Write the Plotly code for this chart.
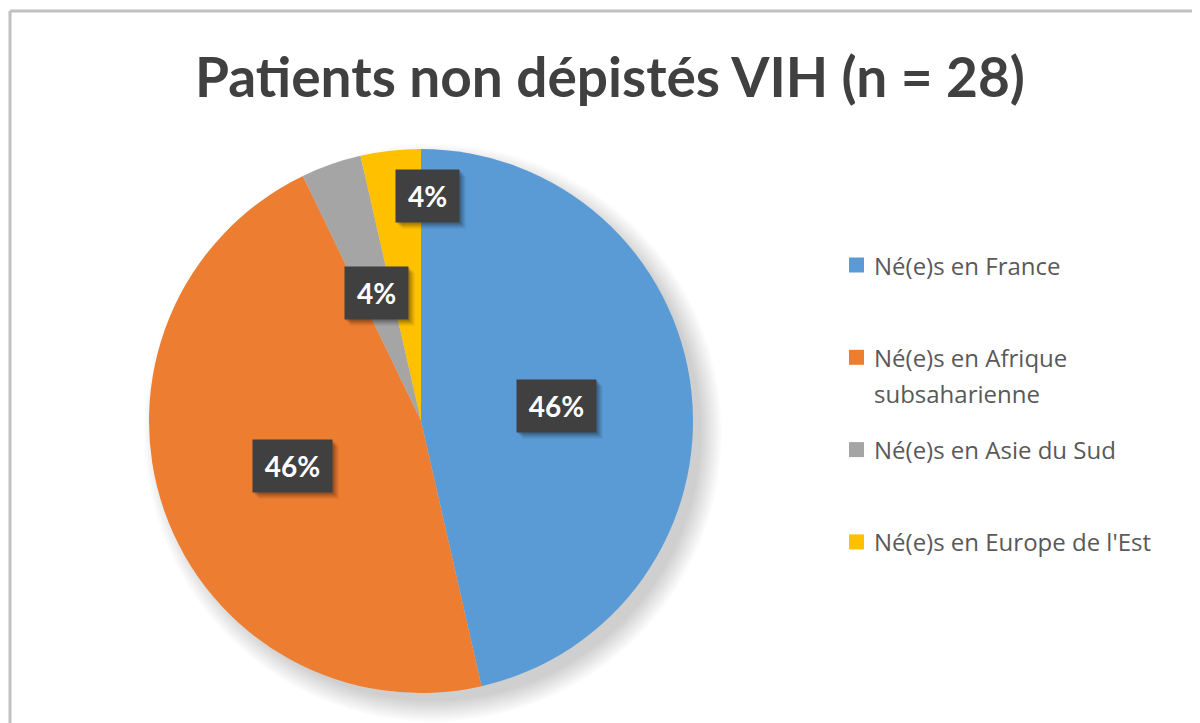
import math
import plotly.graph_objects as go

# ---- data ----
categories = ["Né(e)s en France", "Né(e)s en Afrique subsaharienne",
              "Né(e)s en Asie du Sud", "Né(e)s en Europe de l'Est"]
legend_lines = [["Né(e)s en France"],
                ["Né(e)s en Afrique", "subsaharienne"],
                ["Né(e)s en Asie du Sud"],
                ["Né(e)s en Europe de l'Est"]]
counts = [13, 13, 1, 1]
title_text = "Patients non dépistés VIH (n = 28)"

# ---- style ----
colors = ["#5B9BD5", "#ED7D31", "#A5A5A5", "#FFC000"]
OFF = 8                      # browser default body margin
W, H = 1200 - OFF, 723 - OFF
CX, CY, R = 421, 421, 272    # pie centre / radius in page pixels
label_r = [0.5, 0.5, 0.5, 0.82]
label_shift = [(0, 0), (0, 0), (0, 0), (31, -3)]
box_w = [77, 77, 61, 61]
FONT = "Lato"

def px(x):
    return (x - OFF) / W

def py(y):
    return 1 - (y - OFF) / H

total = sum(counts)

fig = go.Figure()
fig.add_trace(go.Pie(
    labels=categories,
    values=counts,
    marker=dict(colors=colors, line=dict(color="white", width=0)),
    sort=False,
    direction="clockwise",
    rotation=0,
    textinfo="none",
    hoverinfo="label+percent",
    showlegend=False,
    domain=dict(x=[px(CX - R), px(CX + R)], y=[py(CY + R), py(CY - R)]),
))

shapes = []
# soft shadow behind pie (offset toward bottom-right)
for i in range(16):
    rr = R - 4 + i * 1.4
    off = 12
    shapes.append(dict(type="circle", xref="paper", yref="paper", layer="below",
                       x0=px(CX + off - rr), x1=px(CX + off + rr),
                       y0=py(CY + off + rr), y1=py(CY + off - rr),
                       fillcolor="rgba(0,0,0,0.011)", line=dict(width=0)))
# chart border (top & left visible)
shapes.append(dict(type="line", xref="paper", yref="paper", x0=px(10), x1=1.01,
                   y0=py(11), y1=py(11), line=dict(color="#C0C0C0", width=3)))
shapes.append(dict(type="line", xref="paper", yref="paper", x0=px(10), x1=px(10),
                   y0=py(11), y1=-0.01, line=dict(color="#C0C0C0", width=3)))

annotations = []
# data labels (dark boxes with shadow)
cum = 0
for i, v in enumerate(counts):
    mid = cum + v / 2
    cum += v
    ang = math.radians(90 - mid / total * 360)
    lx = CX + label_r[i] * R * math.cos(ang) + label_shift[i][0]
    ly = CY - label_r[i] * R * math.sin(ang) + label_shift[i][1]
    txt = f"{round(v / total * 100)}%"
    for (dx, dy, a) in [(6, 6, 0.09), (4, 4, 0.13), (2, 2, 0.17)]:
        annotations.append(dict(xref="paper", yref="paper", x=px(lx + dx), y=py(ly + dy),
                                xanchor="center", yanchor="middle",
                                text=" ", showarrow=False, width=box_w[i], height=50,
                                bgcolor=f"rgba(0,0,0,{a})", font=dict(size=25)))
    annotations.append(dict(xref="paper", yref="paper", x=px(lx), y=py(ly),
                            xanchor="center", yanchor="middle",
                            text=f"<b>{txt}</b>", showarrow=False,
                            width=box_w[i], height=50, bgcolor="#404040",
                            font=dict(family=FONT, size=28, color="white")))

# manual legend (Excel-style spacing)
for i, lines in enumerate(legend_lines):
    y0 = 265 + 92.3 * i
    shapes.append(dict(type="rect", xref="paper", yref="paper",
                       x0=px(849), x1=px(864), y0=py(y0 + 7.5), y1=py(y0 - 7.5),
                       fillcolor=colors[i], line=dict(width=0)))
    for j, line in enumerate(lines):
        annotations.append(dict(xref="paper", yref="paper", x=px(872), y=py(y0 + 36 * j),
                                xanchor="left", yanchor="middle", text=line,
                                showarrow=False,
                                font=dict(family="Open Sans", size=24, color="#595959")))

fig.update_layout(
    width=W, height=H,
    margin=dict(l=0, r=0, t=0, b=0),
    paper_bgcolor="white", plot_bgcolor="white",
    title=dict(text=f"<b>{title_text}</b>", x=px(610), y=py(78),
               xanchor="center", yanchor="middle",
               font=dict(family=FONT, size=55, color="#404040")),
    shapes=shapes,
    annotations=annotations,
)

fig.write_html("out.html")
